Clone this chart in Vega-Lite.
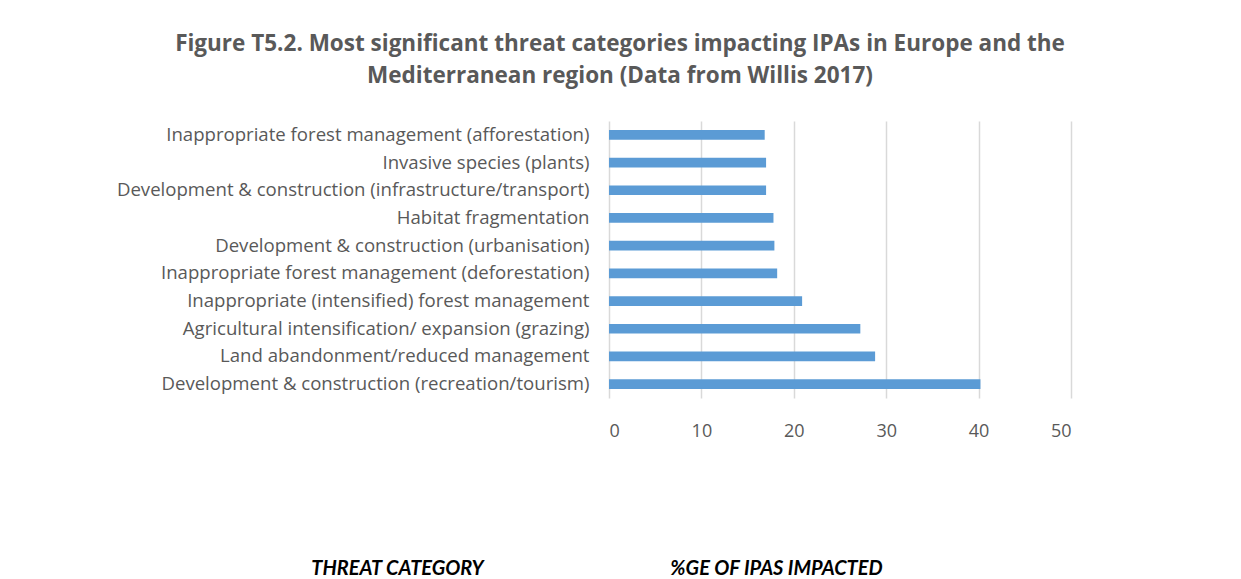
{
  "$schema": "https://vega.github.io/schema/vega-lite/v6.json",
  "width": 462,
  "height": 277,
  "autosize": {"type": "none"},
  "padding": {"left": 609, "top": 121, "right": 170, "bottom": 181},
  "background": "white",
  "title": {
    "text": ["Figure T5.2. Most significant threat categories impacting IPAs in Europe and the", "Mediterranean region (Data from Willis 2017)"],
    "font": "Open Sans",
    "fontSize": 22.5,
    "fontWeight": "bold",
    "color": "#595959",
    "lineHeight": 32,
    "anchor": "middle",
    "dx": -220,
    "offset": 34
  },
  "data": {
    "values": [
      {"category": "Inappropriate forest management (afforestation)", "pct": 16.85},
      {"category": "Invasive species (plants)", "pct": 17.0},
      {"category": "Development & construction (infrastructure/transport)", "pct": 17.0},
      {"category": "Habitat fragmentation", "pct": 17.8},
      {"category": "Development & construction (urbanisation)", "pct": 17.9},
      {"category": "Inappropriate forest management (deforestation)", "pct": 18.2},
      {"category": "Inappropriate (intensified) forest management ", "pct": 20.9},
      {"category": "Agricultural intensification/ expansion (grazing)", "pct": 27.2},
      {"category": "Land abandonment/reduced management", "pct": 28.8},
      {"category": "Development & construction (recreation/tourism)", "pct": 40.2}
    ]
  },
  "mark": {"type": "bar", "color": "#5B9BD5"},
  "encoding": {
    "y": {
      "field": "category",
      "type": "nominal",
      "sort": null,
      "scale": {"paddingInner": 0.65, "paddingOuter": 0.325},
      "axis": {
        "title": "THREAT CATEGORY",
        "titleAngle": 0,
        "titleX": -212,
        "titleY": 447,
        "titleAlign": "center",
        "titleBaseline": "middle",
        "titleFont": "Lato",
        "titleFontSize": 20,
        "titleFontWeight": "bold",
        "titleFontStyle": "italic",
        "titleColor": "black",
        "domain": false,
        "ticks": false,
        "labelPadding": 20,
        "labelFont": "Open Sans",
        "labelFontSize": 18.6,
        "labelColor": "#595959",
        "labelLimit": 600
      }
    },
    "x": {
      "field": "pct",
      "type": "quantitative",
      "scale": {"domain": [0, 50]},
      "axis": {
        "values": [0, 10, 20, 30, 40, 50],
        "title": "%GE OF IPAS IMPACTED",
        "titleX": 167,
        "titleY": 170,
        "titleAlign": "center",
        "titleBaseline": "middle",
        "titleFont": "Lato",
        "titleFontSize": 20,
        "titleFontWeight": "bold",
        "titleFontStyle": "italic",
        "titleColor": "black",
        "domain": false,
        "ticks": false,
        "grid": true,
        "gridColor": "#d9d9d9",
        "gridWidth": 1.5,
        "labelPadding": 24,
        "labelFont": "Open Sans",
        "labelFontSize": 18,
        "labelColor": "#595959"
      }
    }
  },
  "config": {"view": {"stroke": null}}
}
